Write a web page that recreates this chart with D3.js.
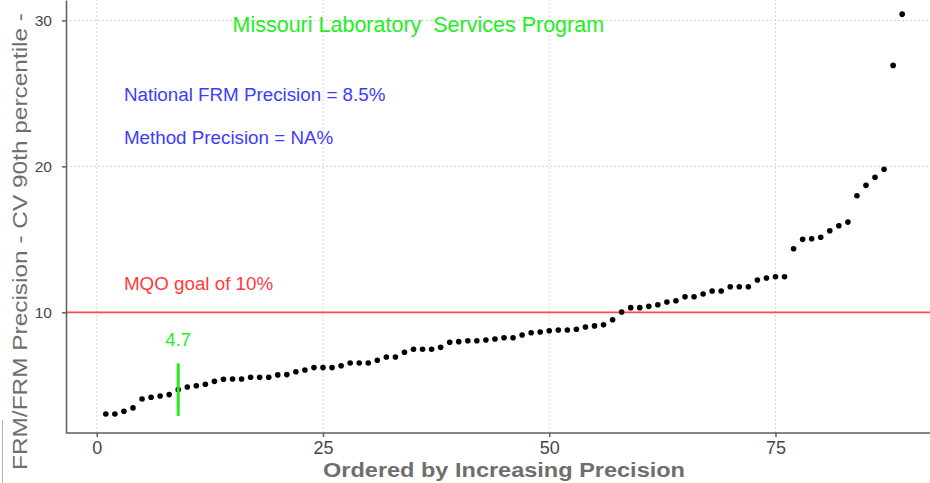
<!DOCTYPE html>
<html lang="en">
<head>
<meta charset="utf-8">
<script src="https://cdn.jsdelivr.net/npm/d3@7"></script>
<style>
    body { margin: 0; background: #fff; }
    svg { display: block; font-family: "Liberation Sans", Arial, sans-serif; }
    .grid line { stroke: #d4d4d4; stroke-width: 1; stroke-dasharray: 2,2; }
    .axis path, .axis line { stroke: #5e5e5e; stroke-width: 1.5; }
    .axis text { fill: #474747; }
</style>
</head>
<body>
<svg width="930" height="483"></svg>
<script>
    // CV 90th percentile per site, already sorted
    var precision = [3.03, 3.03, 3.22, 3.45, 4.06, 4.18, 4.27, 4.36, 4.7, 4.88,
        4.97, 5.07, 5.27, 5.41, 5.43, 5.43, 5.55, 5.55, 5.55, 5.71,
        5.73, 5.93, 6.05, 6.21, 6.21, 6.21, 6.34, 6.53, 6.53, 6.53,
        6.71, 6.94, 6.94, 7.26, 7.47, 7.47, 7.47, 7.6, 7.95, 7.99,
        8.05, 8.05, 8.1, 8.17, 8.26, 8.26, 8.45, 8.6, 8.65, 8.74,
        8.79, 8.79, 8.84, 8.99, 9.07, 9.14, 9.49, 10.02, 10.32, 10.32,
        10.41, 10.52, 10.71, 10.79, 11.07, 11.07, 11.25, 11.46, 11.46, 11.75,
        11.75, 11.75, 12.21, 12.35, 12.44, 12.44, 14.36, 15.0, 15.04, 15.14,
        15.59, 15.93, 16.18, 17.99, 18.7, 19.25, 19.8, 26.92, 30.43];
    var xTicks = [0, 25, 50, 75];
    var yTicks = [10, 20, 30];
    var goal = 10;
    var labRank = 9, labValue = 4.7, labSpan = [2.9, 6.5];

    var svg = d3.select("svg");

    var x = d3.scaleLinear().domain([-3.4, 93.4]).range([66, 942]);
    var y = d3.scaleLinear().domain([1.73, 31.4]).range([433, 0]);

    // grid
    var grid = svg.append("g").attr("class", "grid");
    grid.selectAll(".gx").data(xTicks).enter().append("line")
        .attr("x1", function(d) { return x(d); }).attr("x2", function(d) { return x(d); })
        .attr("y1", y.range()[0]).attr("y2", 0);
    grid.selectAll(".gy").data(yTicks).enter().append("line")
        .attr("y1", function(d) { return y(d); }).attr("y2", function(d) { return y(d); })
        .attr("x1", 66).attr("x2", 930);

    // MQO goal
    svg.append("line")
        .attr("x1", 66).attr("x2", 930)
        .attr("y1", y(goal)).attr("y2", y(goal))
        .attr("stroke", "#ff4a4a").attr("stroke-width", 1.8);

    svg.append("g").selectAll("circle")
        .data(precision).enter().append("circle")
        .attr("cx", function(d, i) { return x(i + 1); })
        .attr("cy", function(d) { return y(d); })
        .attr("r", 2.8)
        .attr("fill", "#000");

    // lab marker
    svg.append("line")
        .attr("x1", x(labRank)).attr("x2", x(labRank))
        .attr("y1", y(labSpan[0])).attr("y2", y(labSpan[1]))
        .attr("stroke", "#22ee22").attr("stroke-width", 3);
    svg.append("text")
        .attr("x", x(labRank)).attr("y", y(8.15)).attr("dy", "0.35em")
        .attr("text-anchor", "middle")
        .style("font-size", "18.5px").attr("fill", "#22ee22")
        .text(labValue);

    // annotations
    svg.append("text")
        .attr("x", x(15)).attr("y", y(29.75)).attr("dy", "0.35em")
        .style("font-size", "21.5px").style("white-space", "pre")
        .attr("fill", "#22ee22")
        .text("Missouri Laboratory  Services Program");
    svg.append("text")
        .attr("x", x(3)).attr("y", y(24.9)).attr("dy", "0.35em")
        .style("font-size", "18.8px").attr("fill", "#3c3cff")
        .text("National FRM Precision = 8.5%");
    svg.append("text")
        .attr("x", x(3)).attr("y", y(21.95)).attr("dy", "0.35em")
        .style("font-size", "18.8px").attr("fill", "#3c3cff")
        .text("Method Precision = NA%");
    svg.append("text")
        .attr("x", x(3)).attr("y", y(11.97)).attr("dy", "0.35em")
        .style("font-size", "18.8px").attr("fill", "#ff3b3b")
        .text("MQO goal of 10%");

    // axes
    var gx = svg.append("g").attr("class", "axis")
        .attr("transform", "translate(0," + y.range()[0] + ")")
        .call(d3.axisBottom(x).tickValues(xTicks).tickSize(4).tickSizeOuter(0).tickPadding(4));
    gx.selectAll("text").style("font-size", "18px");

    var gy = svg.append("g").attr("class", "axis")
        .attr("transform", "translate(66,0)")
        .call(d3.axisLeft(y).tickValues(yTicks).tickSize(4).tickSizeOuter(0).tickPadding(10));
    gy.selectAll("text").style("font-size", "15.5px");
    gx.select(".domain").attr("d", "M66,0H930");

    svg.append("text")
        .attr("x", 504).attr("y", 477)
        .attr("text-anchor", "middle")
        .attr("textLength", 362).attr("lengthAdjust", "spacingAndGlyphs")
        .style("font-size", "21px").style("font-weight", "bold")
        .attr("fill", "#6e6e6e")
        .text("Ordered by Increasing Precision");

    svg.append("text")
        .attr("transform", "translate(27,470) rotate(-90)")
        .attr("textLength", 457).attr("lengthAdjust", "spacingAndGlyphs")
        .style("font-size", "20px")
        .attr("fill", "#6e6e6e")
        .text("FRM/FRM Precision - CV 90th percentile -");

    // thin frame remnant at far left
    svg.append("line")
        .attr("x1", 2.5).attr("x2", 2.5).attr("y1", 420).attr("y2", 483)
        .attr("stroke", "#b5b5b5").attr("stroke-width", 1);
</script>
</body>
</html>
